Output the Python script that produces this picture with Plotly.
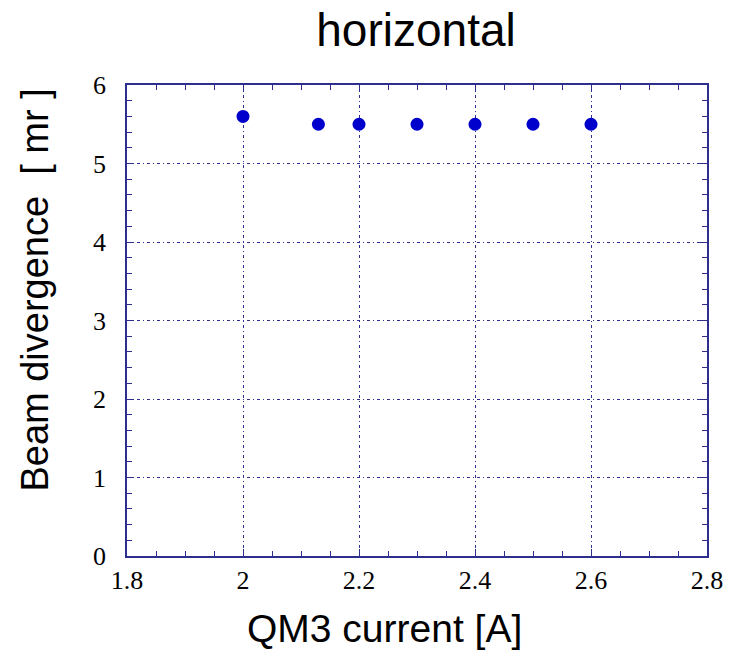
import plotly.graph_objects as go

current = [2.0, 2.13, 2.2, 2.3, 2.4, 2.5, 2.6]
divergence = [5.6, 5.5, 5.5, 5.5, 5.5, 5.5, 5.5]

x_ticks = [1.8, 2.0, 2.2, 2.4, 2.6, 2.8]
x_labels = ["1.8", "2", "2.2", "2.4", "2.6", "2.8"]
y_ticks = [0, 1, 2, 3, 4, 5, 6]

title_text = "horizontal"
x_title = "QM3 current [A]"
y_title = "Beam divergence  [ mr ]"

axis_color = "#2e2e8f"
L, R, T, B, W, H = 127, 18, 85, 94, 735, 650
pw, ph = W - L - R, H - T - B

fig = go.Figure()
fig.add_trace(go.Scatter(
    x=current, y=divergence, mode="markers",
    marker=dict(size=13, color="#0000cc"),
    showlegend=False,
))

fig.update_layout(
    width=W, height=H,
    margin=dict(l=L, r=R, t=T, b=B),
    paper_bgcolor="white", plot_bgcolor="white",
    title=dict(text=title_text, x=416 / W, xanchor="center", y=1 - 30 / H, yanchor="middle",
               font=dict(family="Liberation Sans, Arial", size=46, color="black")),
)
fig.add_annotation(
    text=x_title, xref="paper", yref="paper",
    x=(389 - L) / pw, y=(H - B - 628) / ph, xanchor="center", yanchor="middle",
    showarrow=False, font=dict(family="Liberation Sans, Arial", size=39, color="black"),
)
fig.add_annotation(
    text=y_title, xref="paper", yref="paper", textangle=-90,
    x=(33 - L) / pw, y=(H - B - 290) / ph, xanchor="center", yanchor="middle",
    showarrow=False, font=dict(family="Liberation Sans, Arial", size=38, color="black"),
)
fig.update_xaxes(
    range=[1.8, 2.8], tickvals=x_ticks, ticktext=x_labels,
    ticks="inside", ticklen=7, tickcolor=axis_color,
    showline=True, linecolor=axis_color, linewidth=1.5, mirror="all",
    showgrid=True, gridcolor="#2e2e8f", griddash="3px,3px,1px,3px", gridwidth=1,
    minor=dict(dtick=0.05, ticks="inside", ticklen=5, tickcolor=axis_color, showgrid=False),
    tickfont=dict(family="Liberation Serif, Times New Roman", size=26, color="black"),
    ticklabelstandoff=0,
    zeroline=False,
)
fig.update_yaxes(
    range=[0, 6], tickvals=y_ticks,
    ticks="inside", ticklen=7, tickcolor=axis_color,
    showline=True, linecolor=axis_color, linewidth=1.5, mirror="all",
    showgrid=True, gridcolor="#2e2e8f", griddash="3px,3px,1px,3px", gridwidth=1,
    minor=dict(dtick=0.2, ticks="inside", ticklen=5, tickcolor=axis_color, showgrid=False),
    tickfont=dict(family="Liberation Serif, Times New Roman", size=26, color="black"),
    ticklabelstandoff=14,
    zeroline=False,
)

fig.write_html("out.html")
